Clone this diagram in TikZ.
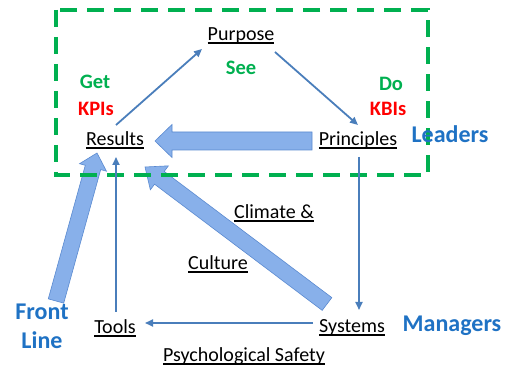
\documentclass[tikz,border=0pt]{standalone}
\usepackage{fontspec}
\setmainfont{Carlito}
\usetikzlibrary{calc,arrows.meta}
\definecolor{labblue}{HTML}{1F72C4}
\definecolor{labgreen}{HTML}{00B050}
\definecolor{labred}{HTML}{FF0000}
\definecolor{thinblue}{HTML}{4A7EBB}
\definecolor{arrfill}{HTML}{88B0EA}
\definecolor{arredge}{HTML}{5A8AD0}
\newcommand\ulx[1]{\setbox0\hbox{#1}\rlap{\rule[-2.6pt]{\wd0}{1.1pt}}\box0}
\newcommand\blockarrow[5]{% tail, tip, shaft half, head half, head length
  \coordinate (#1-hb) at ($(#2)!#5!(#1)$);
  \filldraw[blockarr] ($(#1)!#3!90:(#2)$) -- ($(#1-hb)!#3!90:(#2)$) -- ($(#1-hb)!#4!90:(#2)$) -- (#2)
    -- ($(#1-hb)!#4!-90:(#2)$) -- ($(#1-hb)!#3!-90:(#2)$) -- ($(#1)!#3!-90:(#2)$) -- cycle;}
\begin{document}
\begin{tikzpicture}[x=1pt,y=-1pt,
  txt/.style={anchor=base,inner sep=0pt,font=\fontsize{20}{24}\selectfont},
  gtxt/.style={anchor=base,inner sep=0pt,font=\fontsize{20.5}{24}\selectfont\bfseries,text=labgreen},
  rtxt/.style={anchor=base,inner sep=0pt,font=\fontsize{20.5}{24}\selectfont\bfseries,text=labred},
  btxt/.style={anchor=base,inner sep=0pt,font=\fontsize{24}{28}\selectfont\bfseries,text=labblue},
  thin/.style={draw=thinblue,line width=1.8pt,-{Triangle[length=8pt,width=7pt]}},
  blockarr/.style={fill=arrfill,draw=arredge,line width=0.6pt,line join=miter},
  dashbox/.style={draw=labgreen,line width=4pt,dash pattern=on 17pt off 10pt}]
\useasboundingbox (0,0) rectangle (517,371);

% text nodes
\node[txt] (purpose) at (241,41) {\ulx{Purpose}};
\node[gtxt] (see) at (241,75) {See};
\node[gtxt] (get) at (95,89) {Get};
\node[rtxt] (kpis) at (96,116) {KPIs};
\node[gtxt] (do) at (391,91) {Do};
\node[rtxt] (kbis) at (388,116) {KBIs};
\node[txt] (results) at (115,146) {\ulx{Results}};
\node[txt] (principles) at (358,146) {\ulx{Principles}};
\node[txt] (climate) at (274,219) {\ulx{Climate \&}};
\node[txt] (culture) at (218,270) {\ulx{Culture}};
\node[txt] (tools) at (115,334) {\ulx{Tools}};
\node[txt] (systems) at (352,333) {\ulx{Systems}};
\node[txt] (psych) at (244,362) {\ulx{Psychological Safety}};

% block arrows
\coordinate (bhT) at (312,141);
\coordinate (bhP) at (155,141);
\coordinate (bdT) at (327,304);
\coordinate (bdP) at (145,167);
\coordinate (bfT) at (56,301);
\coordinate (bfP) at (97,153);
\blockarrow{bhT}{bhP}{9pt}{16.5pt}{17pt}
\blockarrow{bdT}{bdP}{8pt}{15pt}{18pt}
\blockarrow{bfT}{bfP}{8pt}{14pt}{15pt}

% dashed leaders box
\draw[dashbox] (56,10) rectangle (428,175);

% thin arrows
\coordinate (rp1) at (116,125);
\coordinate (pu1) at (202,49);
\coordinate (pu2) at (275,52);
\coordinate (pr1) at (358,125);
\coordinate (pr2) at (359,157);
\coordinate (sy1) at (359,310);
\coordinate (sy2) at (313,323);
\coordinate (to1) at (145,323);
\coordinate (to2) at (116,312);
\coordinate (re1) at (116,157);
\draw[thin] (rp1) -- (pu1);
\draw[thin] (pu2) -- (pr1);
\draw[thin] (pr2) -- (sy1);
\draw[thin] (sy2) -- (to1);
\draw[thin] (to2) -- (re1);

% role labels
\node[btxt] (leaders) at (450,143) {Leaders};
\node[btxt] (managers) at (452,332) {Managers};
\node[btxt] (front) at (42,320) {Front};
\node[btxt] (line) at (42,349) {Line};
\end{tikzpicture}
\end{document}
